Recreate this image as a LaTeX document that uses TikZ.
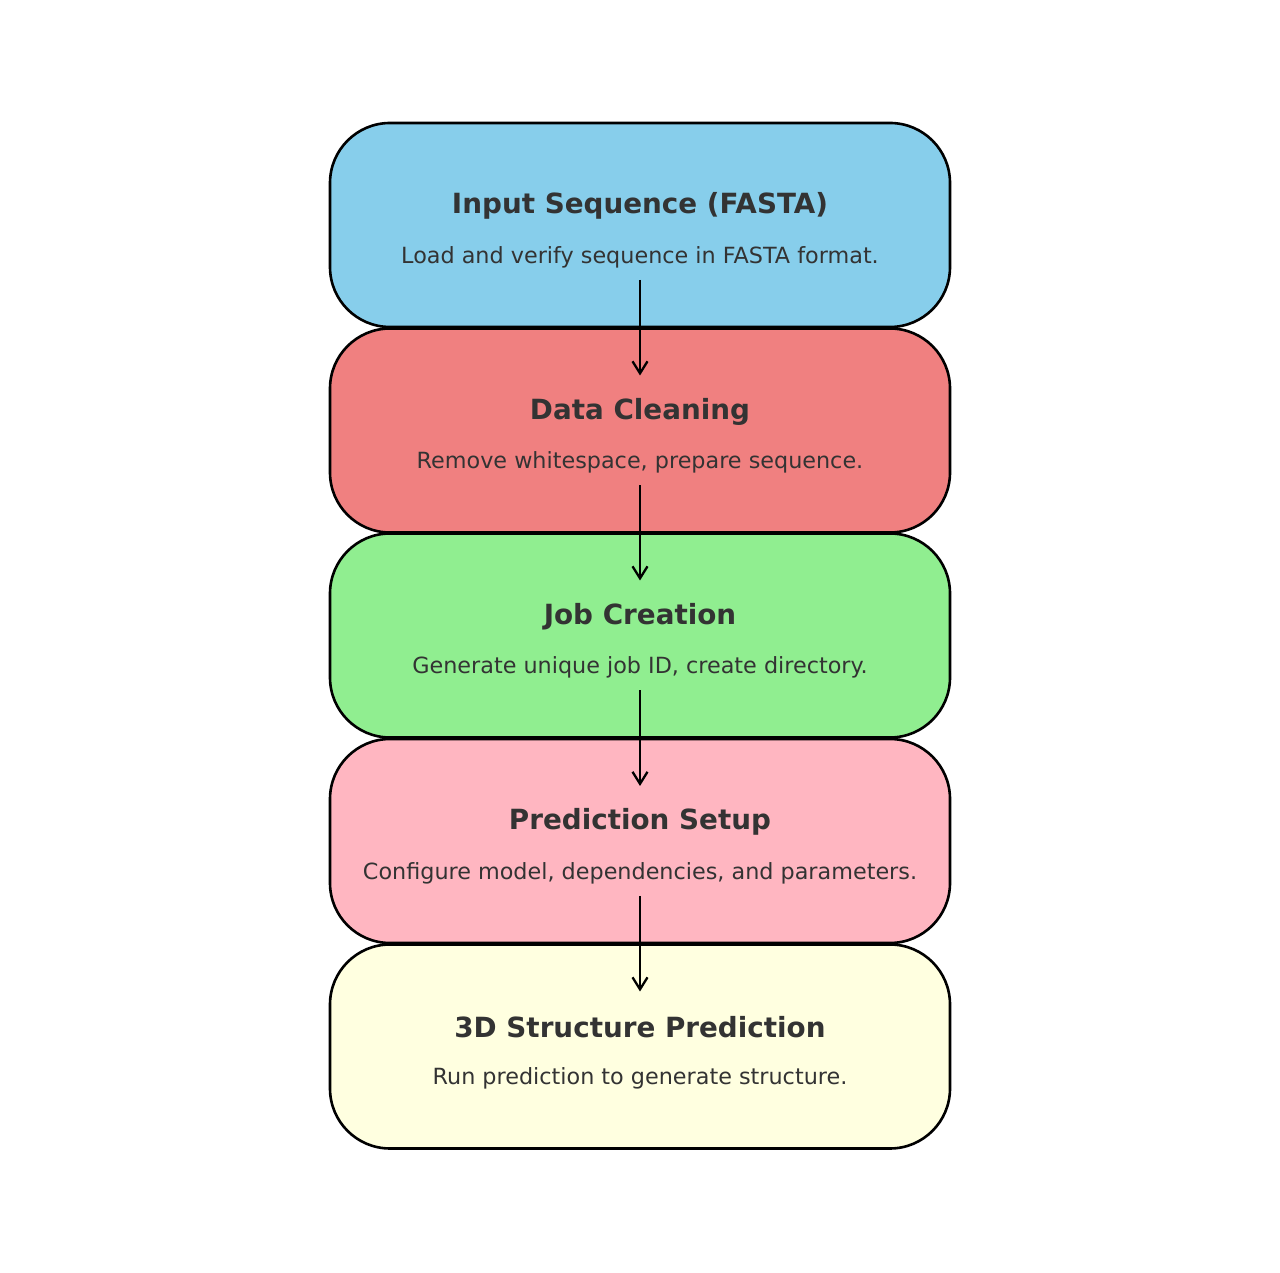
\documentclass[tikz,border=0pt]{standalone}
\usepackage{fontspec}
\setmainfont{DejaVu Sans}
\usetikzlibrary{arrows.meta,positioning}
\definecolor{cA}{HTML}{87CEEB}
\definecolor{cB}{HTML}{F08080}
\definecolor{cC}{HTML}{90EE90}
\definecolor{cD}{HTML}{FFB6C1}
\definecolor{cE}{HTML}{FFFFE0}
\definecolor{txt}{HTML}{333333}
\tikzset{
  stagebox/.style={draw=black, line width=2.6pt, rounded corners=60pt,
    minimum width=620pt, minimum height=204pt, inner sep=0pt},
  ttl/.style={text=txt, font=\fontsize{27.8}{32}\selectfont\bfseries, inner sep=0pt},
  sub/.style={text=txt, font=\fontsize{22.3}{26}\selectfont, inner sep=0pt},
  flow/.style={draw=black, line width=2.3pt, -{Straight Barb[length=12pt,width=15pt,line width=2.3pt]}}
}
\begin{document}
\begin{tikzpicture}[x=1pt,y=1pt]
\useasboundingbox (0,0) rectangle (1280,1272);
\node[stagebox, fill=cA] (b1) at (640,1047) {};
\node[stagebox, fill=cB] (b2) at (640,841.5) {};
\node[stagebox, fill=cC] (b3) at (640,636.5) {};
\node[stagebox, fill=cD] (b4) at (640,431) {};
\node[stagebox, fill=cE] (b5) at (640,225.5) {};

\node[ttl] (t1) at ([yshift=19pt]b1.center) {Input Sequence (FASTA)};
\node[sub] (s1) at ([yshift=-32pt]b1.center) {Load and verify sequence in FASTA format.};
\node[ttl] (t2) at ([yshift=19pt]b2.center) {Data Cleaning};
\node[sub] (s2) at ([yshift=-32pt]b2.center) {Remove whitespace, prepare sequence.};
\node[ttl] (t3) at ([yshift=19pt]b3.center) {Job Creation};
\node[sub] (s3) at ([yshift=-32pt]b3.center) {Generate unique job ID, create directory.};
\node[ttl] (t4) at ([yshift=19pt]b4.center) {Prediction Setup};
\node[sub] (s4) at ([yshift=-32pt]b4.center) {Configure model, dependencies, and parameters.};
\node[ttl] (t5) at ([yshift=19pt]b5.center) {3D Structure Prediction};
\node[sub] (s5) at ([yshift=-32pt]b5.center) {Run prediction to generate structure.};

\foreach \a/\b in {b1/b2,b2/b3,b3/b4,b4/b5}{
  \coordinate (from-\a) at ([yshift=-55pt]\a.center);
  \coordinate (to-\b) at ([yshift=55pt]\b.center);
  \draw[flow] (from-\a) -- (to-\b);
}
\end{tikzpicture}
\end{document}
